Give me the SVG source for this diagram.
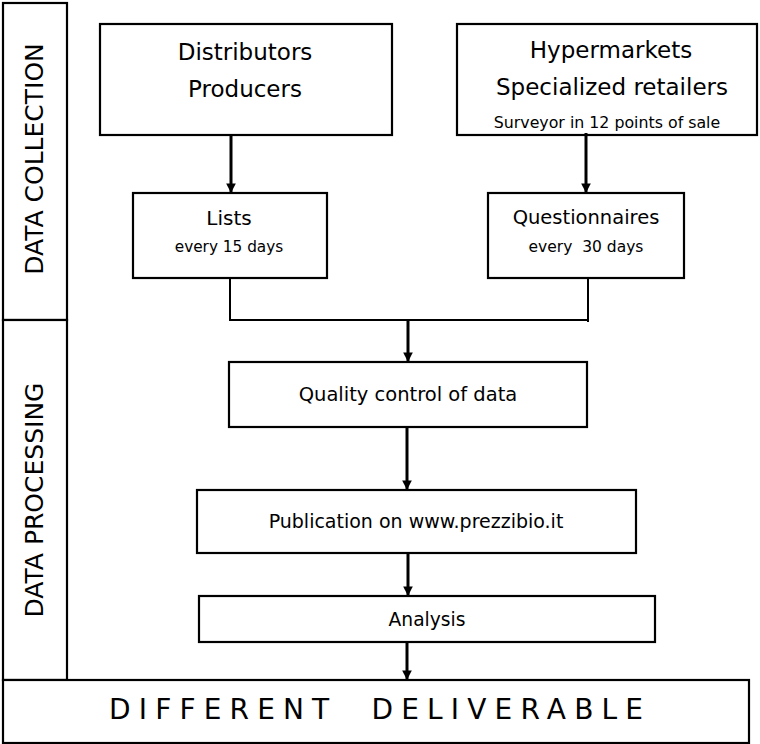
<svg xmlns="http://www.w3.org/2000/svg" width="760" height="744" viewBox="0 0 760 744">
  <style>
    .box { fill: #fff; stroke: #000; stroke-width: 2.2; }
    .t { font-family: "Comic Sans MS", "DejaVu Sans", sans-serif; fill: #000; text-anchor: middle; }
    .line { fill: none; stroke: #000; stroke-width: 2; }
    .arrow { fill: none; stroke: #000; stroke-width: 3; marker-end: url(#head); }
  </style>
  <defs>
    <marker id="head" viewBox="0 0 10 10" refX="10" refY="5" markerWidth="3.6" markerHeight="3.2" orient="auto" markerUnits="strokeWidth">
      <path d="M0,0 L10,5 L0,10 Z" fill="#000"/>
    </marker>
    <clipPath id="clipHyper">
      <rect x="457" y="24" width="300" height="108"/>
    </clipPath>
  </defs>
  <rect width="760" height="744" fill="#fff"/>

  <!-- phase bands -->
  <g id="band-collection">
    <rect class="box" x="3" y="3" width="64" height="317"/>
    <text class="t" font-size="25" transform="translate(43 159) rotate(-90)">DATA COLLECTION</text>
  </g>
  <g id="band-processing">
    <rect class="box" x="3" y="320" width="64" height="360"/>
    <text class="t" font-size="25" transform="translate(43 500) rotate(-90)">DATA PROCESSING</text>
  </g>
  <g id="deliverable">
    <rect class="box" x="3" y="680" width="746" height="63"/>
    <text class="t" font-size="28" x="376" y="719" textLength="534" lengthAdjust="spacing" xml:space="preserve">DIFFERENT  DELIVERABLE</text>
  </g>

  <!-- sources -->
  <g id="distributors">
    <rect class="box" x="100" y="24" width="292" height="111"/>
    <text class="t" font-size="23" x="245" y="60">Distributors</text>
    <text class="t" font-size="23" x="245" y="97">Producers</text>
  </g>
  <g id="hypermarkets">
    <rect class="box" x="457" y="24" width="300" height="111"/>
    <text class="t" font-size="23" x="611" y="58">Hypermarkets</text>
    <text class="t" font-size="23" x="612" y="95">Specialized retailers</text>
    <text class="t" font-size="15.8" x="607" y="128" clip-path="url(#clipHyper)">Surveyor in 12 points of sale</text>
  </g>

  <!-- collection instruments -->
  <g id="lists">
    <rect class="box" x="133" y="193" width="194" height="85"/>
    <text class="t" font-size="20" x="229" y="225">Lists</text>
    <text class="t" font-size="15.3" x="229" y="252">every 15 days</text>
  </g>
  <g id="questionnaires">
    <rect class="box" x="488" y="193" width="196" height="85"/>
    <text class="t" font-size="19.5" x="586" y="224">Questionnaires</text>
    <text class="t" font-size="15.5" x="586" y="252" xml:space="preserve">every  30 days</text>
  </g>

  <!-- processing steps -->
  <g id="quality">
    <rect class="box" x="229" y="362" width="358" height="65"/>
    <text class="t" font-size="19.5" x="408" y="401">Quality control of data</text>
  </g>
  <g id="publication">
    <rect class="box" x="197" y="490" width="439" height="63"/>
    <text class="t" font-size="19" x="416" y="528">Publication on www.prezzibio.it</text>
  </g>
  <g id="analysis">
    <rect class="box" x="199" y="596" width="456" height="46"/>
    <text class="t" font-size="18.7" x="427" y="626">Analysis</text>
  </g>

  <!-- connectors -->
  <g id="connectors">
    <line class="arrow" x1="231" y1="135" x2="231" y2="193"/>
    <line class="arrow" x1="586" y1="133" x2="586" y2="193"/>
    <polyline class="line" points="230,278 230,320 588,320"/>
    <line class="line" x1="588" y1="278" x2="588" y2="322"/>
    <line class="arrow" x1="408" y1="320" x2="408" y2="362"/>
    <line class="arrow" x1="407" y1="427" x2="407" y2="490"/>
    <line class="arrow" x1="408" y1="553" x2="408" y2="596"/>
    <line class="arrow" x1="407" y1="642" x2="407" y2="680"/>
  </g>
</svg>
